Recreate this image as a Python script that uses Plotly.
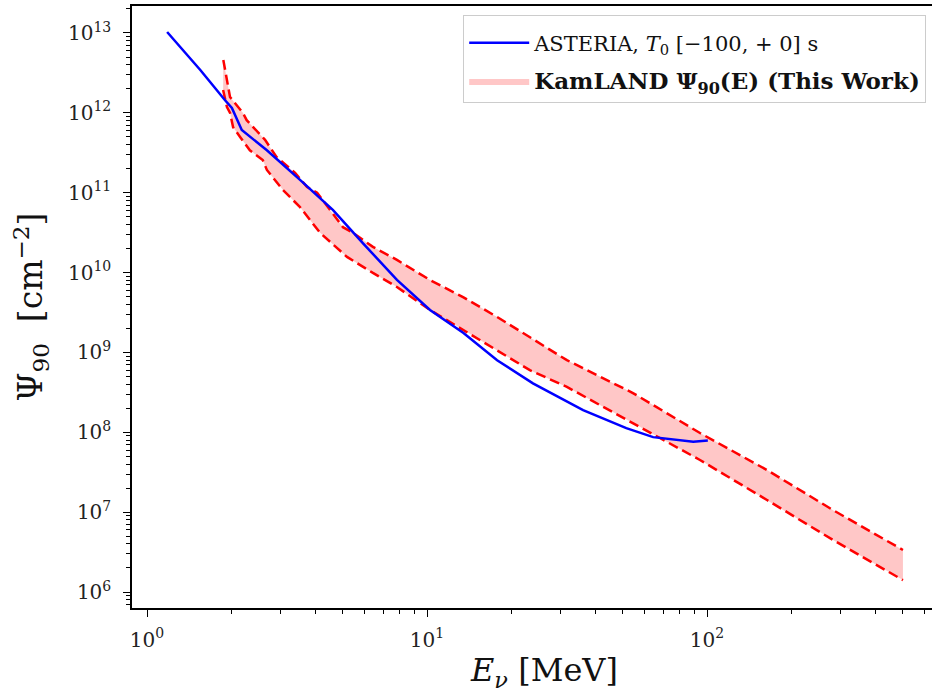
import plotly.graph_objects as go

# ASTERIA curve
ast_E = [1.18, 1.55, 1.90, 2.01, 2.18, 2.68, 3.52, 4.61, 5.9, 7.81, 10.25, 13.5, 17.8, 23.9, 36.1, 51.5, 64.2, 89.3, 100.7]
ast_psi = [1.03e13, 3.44e12, 1.44e12, 1.15e12, 6.1e11, 3.4e11, 1.45e11, 6.1e10, 2.34e10, 8.1e9, 3.4e9, 1.75e9, 8.0e8, 4.1e8, 1.9e8, 1.13e8, 8.7e7, 7.6e7, 7.9e7]

# KamLAND band (upper edge)
up_E = [1.873, 1.979, 2.06, 2.20, 2.27, 2.64, 2.90, 3.38, 3.73, 4.05, 5.01, 5.40, 6.41, 7.81, 10.25, 13.5, 17.8, 23.3, 31.6, 54.4, 94.4, 163.8, 282, 501]
up_psi = [4.59e12, 1.58e12, 1.33e12, 1.0e12, 8.1e11, 4.6e11, 2.8e11, 1.77e11, 1.18e11, 1.0e11, 3.7e10, 3.2e10, 2.1e10, 1.44e10, 8.07e9, 4.9e9, 2.78e9, 1.56e9, 8.0e8, 3.1e8, 9.8e7, 3.37e7, 1.06e7, 3.36e6]

# KamLAND band (lower edge)
lo_E = [1.87, 1.93, 1.98, 2.03, 2.15, 2.33, 2.59, 2.68, 3.06, 3.52, 4.15, 5.18, 6.41, 7.81, 10.25, 13.5, 17.8, 23.3, 31.6, 54.4, 94.4, 163.8, 282, 501]
lo_psi = [1.93e12, 1.18e12, 1.0e12, 6.6e11, 5.0e11, 3.4e11, 2.57e11, 1.93e11, 1.08e11, 6.6e10, 3.15e10, 1.57e10, 9.9e9, 6.6e9, 3.4e9, 1.91e9, 1.07e9, 6.0e8, 3.7e8, 1.31e8, 4.5e7, 1.42e7, 4.48e6, 1.41e6]

# tick labels
x_tickvals = [1, 10, 100]
x_ticktext = ["10<sup>0</sup>", "10<sup>1</sup>", "10<sup>2</sup>"]
x_minorvals = [2, 3, 4, 5, 6, 7, 8, 9, 20, 30, 40, 50, 60, 70, 80, 90, 200, 300, 400, 500, 600]
y_tickvals = [1e6, 1e7, 1e8, 1e9, 1e10, 1e11, 1e12, 1e13]
y_ticktext = ["10<sup>6</sup>", "10<sup>7</sup>", "10<sup>8</sup>", "10<sup>9</sup>",
              "10<sup>10</sup>", "10<sup>11</sup>", "10<sup>12</sup>", "10<sup>13</sup>"]

FONT = "DejaVu Serif"
RED = "#ff0000"
BLUE = "#0000ff"

fig = go.Figure()

fig.add_trace(go.Scatter(
    x=up_E + lo_E[::-1], y=up_psi + lo_psi[::-1],
    mode="lines", fill="toself", fillcolor="rgba(255,0,0,0.22)",
    line=dict(width=0), hoverinfo="skip",
    name="<span style='font-size:23px'><b>KamLAND Ψ<sub>90</sub>(E) (This Work)</b></span>",
    legendrank=2, legendgroup="b",
))
fig.add_trace(go.Scatter(x=up_E, y=up_psi, mode="lines", showlegend=False, legendgroup="b",
                         line=dict(color=RED, width=2.5, dash="10px,5px")))
fig.add_trace(go.Scatter(x=lo_E, y=lo_psi, mode="lines", showlegend=False, legendgroup="b",
                         line=dict(color=RED, width=2.5, dash="10px,5px")))
fig.add_trace(go.Scatter(
    x=ast_E, y=ast_psi, mode="lines", line=dict(color=BLUE, width=2.5),
    name="ASTERIA, <i>T</i><sub>0</sub> [−100, + 0] s", legendrank=1, legendgroup="a",
))

fig.update_layout(
    width=932, height=696,
    margin=dict(l=132, r=0, t=6, b=88),
    plot_bgcolor="white", paper_bgcolor="white",
    font=dict(family=FONT, color="#222"),
    legend=dict(
        x=0.414, y=0.985, xanchor="left", yanchor="top",
        bgcolor="white", bordercolor="#cccccc", borderwidth=1,
        font=dict(family=FONT, size=21, color="#111"),
        itemwidth=60, tracegroupgap=8,
        title=dict(text="&nbsp;", font=dict(size=5)),
    ),
    showlegend=True,
    annotations=[dict(
        text="<i>E</i><sub><i>ν</i></sub> [MeV]", xref="paper", yref="paper",
        x=0.515, y=-0.107, xanchor="center", yanchor="middle", showarrow=False,
        font=dict(family=FONT, size=32, color="#111"),
    )],
)

fig.update_xaxes(
    type="log", range=[-0.0536, 2.8036], automargin=False,
    showline=True, linecolor="black", linewidth=1.5, mirror=True,
    showgrid=False, zeroline=False,
    ticks="outside", ticklen=7, tickwidth=1.2, tickcolor="black",
    tickvals=x_tickvals, ticktext=x_ticktext, ticklabelstandoff=6,
    tickfont=dict(family=FONT, size=20, color="#222"),
    minor=dict(ticks="outside", ticklen=4, tickcolor="black", tickwidth=1, showgrid=False,
               tickvals=x_minorvals),
)
fig.update_yaxes(
    type="log", range=[5.80, 13.338], automargin=False,
    showline=True, linecolor="black", linewidth=1.5, mirror=False,
    showgrid=False, zeroline=False,
    ticks="outside", ticklen=7, tickwidth=1.2, tickcolor="black",
    tickvals=y_tickvals, ticktext=y_ticktext, ticklabelstandoff=8,
    tickfont=dict(family=FONT, size=20, color="#222"),
    minor=dict(ticks="outside", ticklen=4, tickcolor="black", tickwidth=1, showgrid=False, dtick="D1"),
    title=dict(text="Ψ<sub>90</sub>  [cm<sup>−2</sup>]", font=dict(family=FONT, size=33, color="#111"), standoff=15),
)

fig.write_html("out.html", config={"displayModeBar": False},
               post_script="document.body.style.margin='0';")
